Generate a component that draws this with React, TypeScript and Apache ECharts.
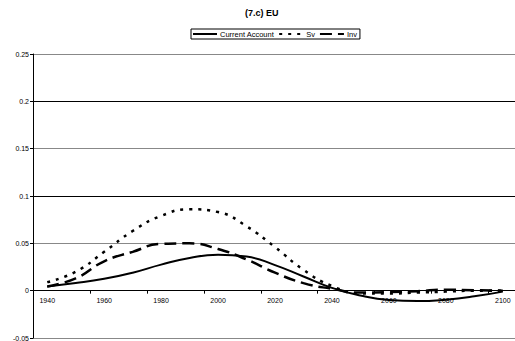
import React, { useEffect, useRef } from "react";
import * as echarts from "echarts";

const years = ["1940","1950","1960","1970","1980","1990","2000","2010","2020","2030","2040","2050","2060","2070","2080","2090","2100"];
const currentAccount = [0.0045,0.008,0.0125,0.019,0.0275,0.0345,0.038,0.036,0.027,0.015,0.003,-0.005,-0.0098,-0.011,-0.0095,-0.006,-0.001];
const sv = [0.009,0.02,0.041,0.063,0.079,0.086,0.083,0.068,0.046,0.022,0.005,-0.003,-0.003,-0.002,-0.001,0,0];
const inv = [0.0045,0.013,0.031,0.041,0.0495,0.05,0.044,0.033,0.019,0.008,0.002,-0.002,-0.0015,-0.0005,0.001,0.0005,0];
const yTicks = { min: -0.05, max: 0.25, interval: 0.05 };

export default function App() {
  const ref = useRef<HTMLDivElement>(null);
  useEffect(() => {
    if (!ref.current) return;
    const chart = echarts.init(ref.current, undefined, { renderer: "svg" });
    const font = "Liberation Sans, Arial, sans-serif";
    const gridTop = 54;
    const gridBottom = 3;
    const gridHeight = 341 - gridTop - gridBottom;
    const zeroFromBottom = gridHeight * (0 - yTicks.min) / (yTicks.max - yTicks.min);
    chart.setOption({
      animation: false,
      backgroundColor: "#fff",
      title: {
        text: "(7.c) EU",
        left: 245,
        top: 8,
        padding: 0,
        textStyle: { fontSize: 9, fontWeight: "bold", color: "#000", fontFamily: font },
      },
      legend: {
        top: 29,
        left: 191,
        data: ["Current Account", "Sv", "Inv"],
        itemWidth: 24,
        itemHeight: 8,
        itemGap: 4,
        padding: [1, 3, 1, 1],
        borderColor: "#000",
        borderWidth: 1,
        itemStyle: { opacity: 0 },
        textStyle: { fontSize: 7.5, color: "#000", fontFamily: font, padding: [0, 0, 0, -2] },
      },
      grid: { left: 33, right: -2, top: gridTop, bottom: gridBottom, outerBoundsMode: "none", containLabel: false },
      xAxis: {
        type: "category",
        data: years,
        boundaryGap: true,
        offset: -zeroFromBottom,
        axisLine: { onZero: false, lineStyle: { color: "#000", width: 1 } },
        axisTick: { show: true, length: 3, inside: false, lineStyle: { color: "#000" } },
        axisLabel: {
          interval: 1,
          fontSize: 7,
          color: "#000",
          fontFamily: font,
          margin: 6,
        },
        splitLine: { show: false },
      },
      yAxis: {
        type: "value",
        min: yTicks.min,
        max: yTicks.max,
        interval: yTicks.interval,
        axisLine: { show: true, lineStyle: { color: "#000", width: 1 } },
        axisTick: { show: true, length: 3, lineStyle: { color: "#000" } },
        axisLabel: { fontSize: 7, color: "#000", fontFamily: font, margin: 4 },
        splitLine: { show: true, lineStyle: { color: ["#888", "#000"], width: 1 } },
      },
      series: [
        {
          name: "Current Account",
          type: "line",
          data: currentAccount,
          smooth: true,
          showSymbol: false,
          symbol: "none",
          color: "#000",
          lineStyle: { color: "#000", width: 2 },
        },
        {
          name: "Sv",
          type: "line",
          data: sv,
          smooth: true,
          showSymbol: false,
          symbol: "none",
          color: "#000",
          lineStyle: { color: "#000", width: 2.5, type: [3, 6] },
        },
        {
          name: "Inv",
          type: "line",
          data: inv,
          smooth: true,
          showSymbol: false,
          symbol: "none",
          color: "#000",
          lineStyle: { color: "#000", width: 2.5, type: [12, 6] },
        },
      ],
    });
    return () => chart.dispose();
  }, []);
  return <div ref={ref} style={{ width: 515, height: 341, position: "absolute", left: 0, top: 0 }} />;
}
